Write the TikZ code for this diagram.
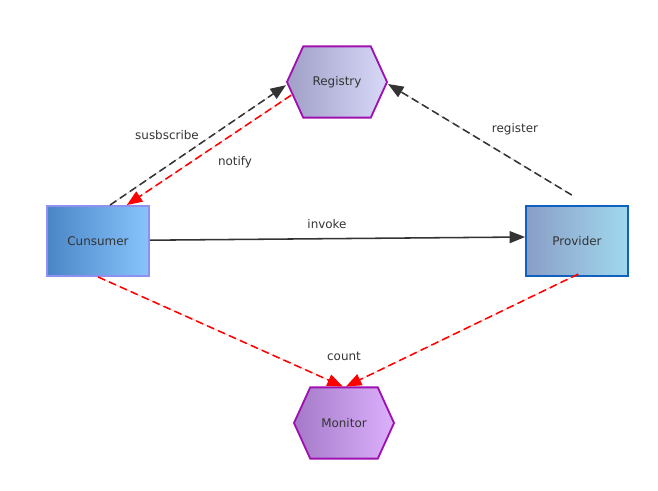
\documentclass[tikz,border=0pt]{standalone}
\usepackage{fontspec}
\setmainfont{DejaVu Sans}
\usetikzlibrary{positioning,shapes.symbols,arrows.meta}

\definecolor{edgegray}{HTML}{333333}
\definecolor{hexborder}{HTML}{A010B0}

\tikzset{
  box/.style={rectangle, draw, line width=1.3pt, minimum width=2.55cm, minimum height=1.75cm,
    text=edgegray, font=\fontsize{8.5}{10}\selectfont},
  hexa/.style={signal, signal to=west and east, signal pointer angle=131, draw=hexborder,
    line width=1.3pt, minimum width=2.5cm, minimum height=1.78cm, inner xsep=0pt,
    text=edgegray, font=\fontsize{8.5}{10}\selectfont},
  lbl/.style={text=edgegray, font=\fontsize{8.5}{10}\selectfont},
  tip/.style={-{Triangle[length=11pt,width=8.5pt]}},
  blackdash/.style={tip, draw=edgegray, fill=edgegray, line width=1.1pt, dash pattern=on 5.5pt off 3pt},
  reddash/.style={tip, draw=red, fill=red, line width=1.1pt, dash pattern=on 5.5pt off 3pt},
}

\begin{document}
\begin{tikzpicture}[x=0.025cm, y=-0.025cm]
\useasboundingbox (0,0) rectangle (658,491);

\def\xl{98}
\def\xm{340}
\def\xr{577}

\def\ya{82}
\def\yb{241}
\def\yc{423}

\node[hexa, left color={rgb,255:red,160;green,160;blue,200}, right color={rgb,255:red,216;green,216;blue,248}]
  (reg) at (337, \ya) {Registry};
\node[box, draw={rgb,255:red,144;green,144;blue,240}, left color={rgb,255:red,74;green,134;blue,198}, right color={rgb,255:red,136;green,196;blue,252}]
  (cons) at (\xl, \yb) {Cunsumer};
\node[box, draw={rgb,255:red,16;green,96;blue,192}, left color={rgb,255:red,138;green,158;blue,198}, right color={rgb,255:red,160;green,216;blue,238}]
  (prov) at (\xr, \yb) {Provider};
\node[hexa, left color={rgb,255:red,164;green,122;blue,200}, right color={rgb,255:red,220;green,176;blue,252}]
  (mon) at (344, \yc) {Monitor};

\draw[blackdash] ([xshift=0.3cm]cons.north) -- ([yshift=-0.08cm]reg.west);
\draw[reddash] ([shift={(0.13cm,-0.33cm)}]reg.west) -- ([xshift=0.72cm]cons.north);
\draw[tip, draw=edgegray, fill=edgegray, line width=1.1pt] ([yshift=0.02cm]cons.east) -- ([yshift=0.1cm]prov.west);
\draw[blackdash] ([shift={(-0.13cm,0.25cm)}]prov.north) -- ([yshift=-0.05cm]reg.east);
\draw[reddash] (cons.south) -- ([xshift=-0.03cm]mon.north);
\draw[reddash] ([shift={(0.03cm,0.07cm)}]prov.south) -- ([xshift=0.05cm]mon.north);

\node[lbl] (lsub) at (167, 135) {susbscribe};
\node[lbl] (lnot) at (235, 162) {notify};
\node[lbl] (linv) at (327, 224) {invoke};
\node[lbl] (lreg) at (515, 129) {register};
\node[lbl] (lcnt) at (344, 356) {count};

\end{tikzpicture}
\end{document}
